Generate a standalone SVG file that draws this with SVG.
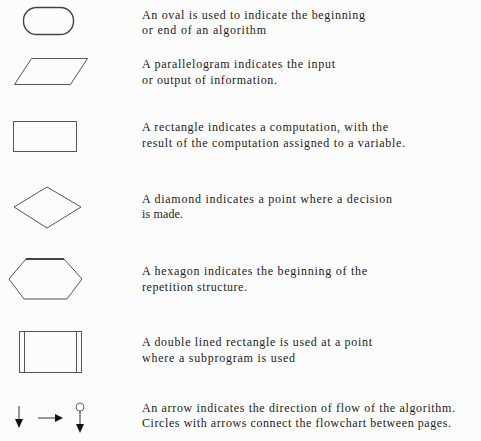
<svg xmlns="http://www.w3.org/2000/svg" width="481" height="441" viewBox="0 0 481 441">
<style>
.bg{fill:#fcfcfc}
.sh{fill:none;stroke:#555;stroke-width:1}
.t{font-family:"Liberation Serif","Times New Roman",serif;font-size:12px;fill:#222}
.ln{stroke:#333;stroke-width:1;fill:none}
.hd{fill:#111}
</style>
<rect class="bg" x="0" y="0" width="481" height="441"/>
<g id="oval">
<rect class="sh" x="23.5" y="7.5" width="50" height="27" rx="13" ry="13" style="stroke:#444;stroke-width:1.4"/>
<text class="t" x="142" y="19" textLength="223" lengthAdjust="spacing">An oval is used to indicate the beginning</text>
<text class="t" x="142" y="34" textLength="124" lengthAdjust="spacing">or end of an algorithm</text>
</g>
<g id="parallelogram">
<polygon class="sh" points="31.5,58.5 87.5,58.5 70.5,84.5 14.5,84.5"/>
<text class="t" x="142" y="68" textLength="193" lengthAdjust="spacing">A parallelogram indicates the input</text>
<text class="t" x="142" y="84" textLength="135" lengthAdjust="spacing">or output of information.</text>
</g>
<g id="rectangle">
<rect class="sh" x="13.5" y="121.5" width="63" height="30"/>
<text class="t" x="142" y="131" textLength="246" lengthAdjust="spacing">A rectangle indicates a computation, with the</text>
<text class="t" x="142" y="147" textLength="263" lengthAdjust="spacing">result of the computation assigned to a variable.</text>
</g>
<g id="diamond">
<polygon class="sh" points="47,187 81,207 47,228 14,207"/>
<text class="t" x="142" y="203" textLength="250" lengthAdjust="spacing">A diamond indicates a point where a decision</text>
<text class="t" x="142" y="218" textLength="41" lengthAdjust="spacing">is made.</text>
</g>
<g id="hexagon">
<polygon class="sh" points="26,259 64,259 82,279 67,299 24,299 9,279"/>
<line x1="26" y1="259" x2="64" y2="259" style="stroke:#222;stroke-width:1.3"/>
<text class="t" x="142" y="275" textLength="225" lengthAdjust="spacing">A hexagon indicates the beginning of the</text>
<text class="t" x="142" y="291" textLength="105" lengthAdjust="spacing">repetition structure.</text>
</g>
<g id="double-rectangle">
<rect class="sh" x="19.5" y="331.5" width="62" height="41"/>
<line class="sh" x1="24.5" y1="331.5" x2="24.5" y2="372.5"/>
<line class="sh" x1="76.5" y1="331.5" x2="76.5" y2="372.5"/>
<text class="t" x="142" y="346" textLength="230" lengthAdjust="spacing">A double lined rectangle is used at a point</text>
<text class="t" x="142" y="362" textLength="153" lengthAdjust="spacing">where a subprogram is used</text>
</g>
<g id="connectors">
<line class="ln" x1="19" y1="406" x2="19" y2="420"/>
<polygon class="hd" points="15,419 23,419 19,428"/>
<line class="ln" x1="38" y1="418" x2="56" y2="418"/>
<polygon class="hd" points="55,414 55,422 63,418"/>
<circle cx="80" cy="407" r="4" fill="none" stroke="#666" stroke-width="1"/>
<line class="ln" x1="80" y1="411" x2="80" y2="425"/>
<polygon class="hd" points="76,424 84,424 80,433"/>
</g>
<g id="arrow-text">
<text class="t" x="142" y="412" textLength="313" lengthAdjust="spacing">An arrow indicates the direction of flow of the algorithm.</text>
<text class="t" x="142" y="427" textLength="309" lengthAdjust="spacing">Circles with arrows connect the flowchart between pages.</text>
</g>
</svg>
